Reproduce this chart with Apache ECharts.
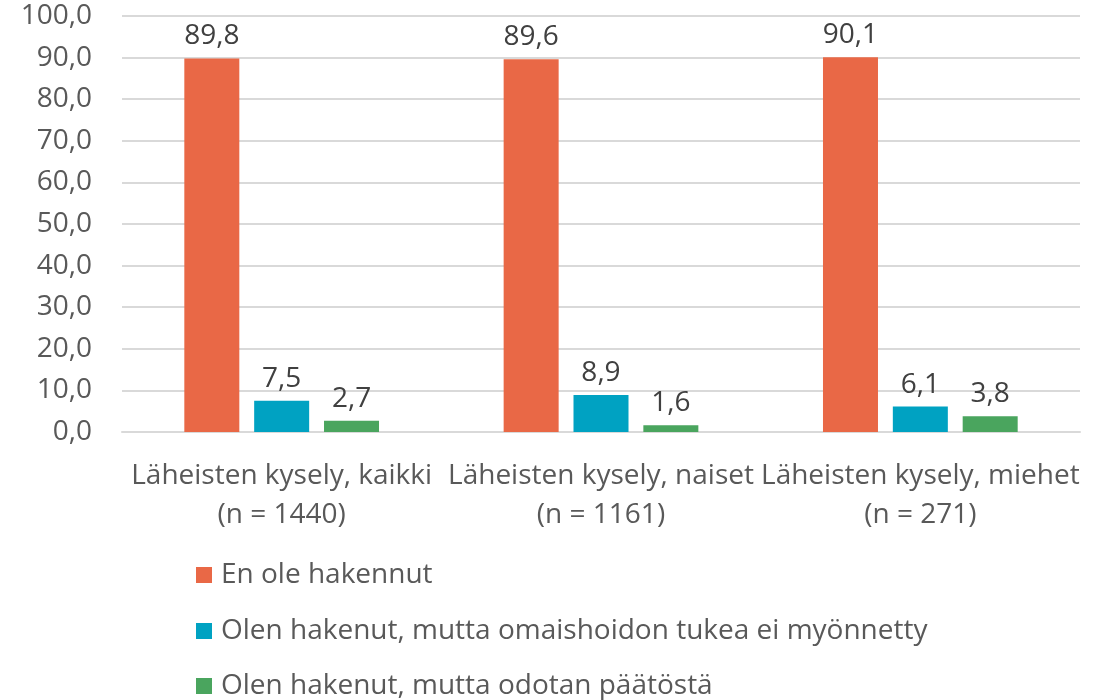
<!DOCTYPE html>
<html><head><meta charset="utf-8">
<script src="https://cdn.jsdelivr.net/npm/echarts@6/dist/echarts.min.js"></script>
<style>html,body{margin:0;padding:0;background:#fff}#c{width:1106px;height:700px}</style>
</head><body><div id="c"></div>
<script>
const categories = ['Läheisten kysely, kaikki\n(n = 1440)', 'Läheisten kysely, naiset\n(n = 1161)', 'Läheisten kysely, miehet\n(n = 271)'];
const seriesNames = ['En ole hakennut', 'Olen hakenut, mutta omaishoidon tukea ei myönnetty', 'Olen hakenut, mutta odotan päätöstä'];
const notApplied = [89.8, 89.6, 90.1];
const denied = [7.5, 8.9, 6.1];
const waiting = [2.7, 1.6, 3.8];
const colors = ['#E96846', '#00A2C2', '#4AA55E'];
const FONT = 'Open Sans';
const FS = 28;
const fmt = v => v.toFixed(1).replace('.', ',');
const chart = echarts.init(document.getElementById('c'));
const mk = (name, data, color) => ({
  name, type: 'bar', data, barWidth: 55, barGap: '27%',
  itemStyle: {color},
  label: {show: true, position: 'top', distance: 8, fontFamily: FONT, fontSize: FS, color: '#404040', formatter: p => fmt(p.value)}
});
const legendTops = [560, 616, 671];
chart.setOption({
  animation: false,
  textStyle: {fontFamily: FONT},
  grid: {left: 122, right: 26, top: 16, bottom: 268, containLabel: false},
  xAxis: {type: 'category', data: categories, axisLine: {show: true, lineStyle: {color: '#D9D9D9', width: 2}}, axisTick: {show: false},
    axisLabel: {interval: 0, fontFamily: FONT, fontSize: FS, color: '#595959', lineHeight: 39, margin: 25}},
  yAxis: {type: 'value', min: 0, max: 100, interval: 10, axisLine: {show: false}, axisTick: {show: false},
    splitLine: {lineStyle: {color: '#D9D9D9', width: 2}},
    axisLabel: {fontFamily: FONT, fontSize: FS, color: '#595959', margin: 30, formatter: v => fmt(v)}},
  legend: seriesNames.map((n, i) => ({data: [n], left: 196, top: legendTops[i], padding: 0, itemWidth: 16, itemHeight: 16, itemGap: 6, icon: 'rect',
    textStyle: {fontFamily: FONT, fontSize: FS, color: '#595959', lineHeight: 30, padding: [0, 0, 0, 4]}})),
  series: [mk(seriesNames[0], notApplied, colors[0]), mk(seriesNames[1], denied, colors[1]), mk(seriesNames[2], waiting, colors[2])]
});
</script></body></html>
